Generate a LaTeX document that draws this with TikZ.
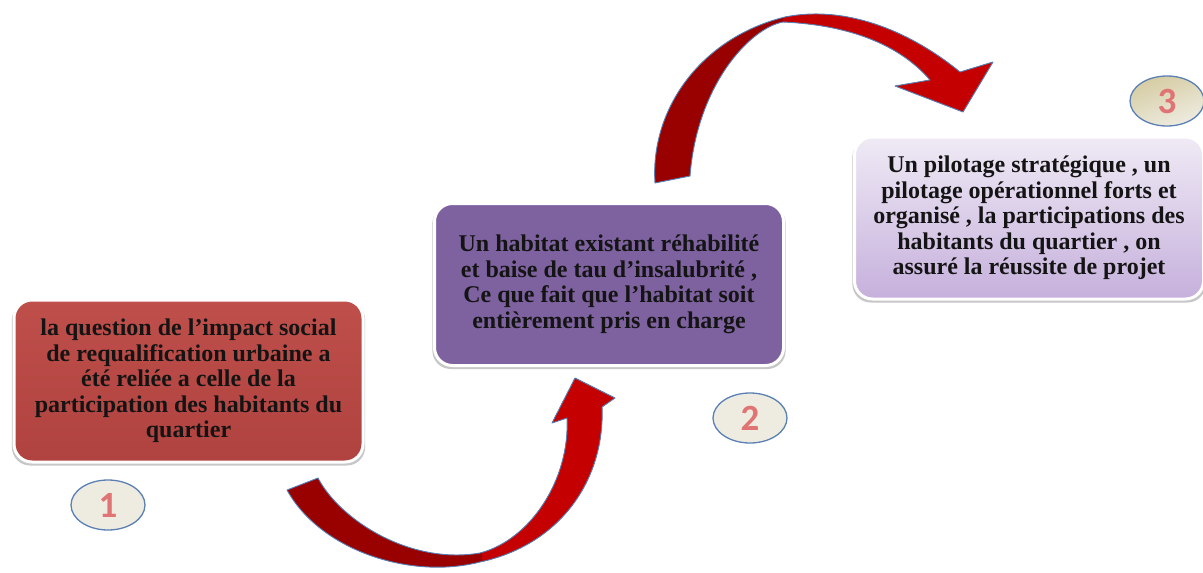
\documentclass[tikz,border=0pt]{standalone}
\usepackage{fontspec}
\setmainfont{Liberation Serif}
\newfontfamily\digitfont{Carlito}
\usetikzlibrary{shapes.geometric,shadows}
\definecolor{boxred}{HTML}{BE4F4B}
\definecolor{boxredb}{HTML}{B0423F}
\definecolor{boxpurple}{HTML}{7E62A0}
\definecolor{boxlavtop}{HTML}{EFEAF5}
\definecolor{boxlavbot}{HTML}{C6B0DC}
\definecolor{ovalfill}{HTML}{EEECE1}
\definecolor{ovaltan}{HTML}{D5CCA2}
\definecolor{ovaledge}{HTML}{5A80B4}
\definecolor{digitcol}{HTML}{E07474}
\definecolor{arrdark}{HTML}{990000}
\definecolor{arrbright}{HTML}{C40000}
\definecolor{arredge}{HTML}{5580B5}
\tikzset{
  stepbox/.style={rectangle, rounded corners=18pt, minimum width=349pt, minimum height=162pt,
    inner sep=0pt, draw=white, line width=3pt, align=center,
    font=\fontsize{24}{25.6}\selectfont\bfseries, text=black!92,
    general shadow={fill=black!22, shadow xshift=0pt, shadow yshift=-2.5pt, shadow scale=1.012}},
  numoval/.style={ellipse, minimum width=74pt, minimum height=50pt, inner sep=0pt,
    draw=ovaledge, line width=1.3pt, fill=ovalfill, text=digitcol,
    font=\fontsize{37}{37}\selectfont\digitfont\bfseries},
  arrowedge/.style={draw=arredge, line width=0.9pt, line join=round}
}
\newcommand{\arrowApath}{(287,490) .. controls (320,550) and (410,580) .. (480,562)
  .. controls (560,545) and (605,480) .. (602,407) -- (615,398) -- (575,378) -- (552,423) -- (567,418)
  .. controls (570,480) and (530,540) .. (480,553)
  .. controls (410,565) and (340,520) .. (318,478) -- cycle}
\newcommand{\arrowBpath}{(655,183) .. controls (650,110) and (700,38) .. (785,17)
  .. controls (850,4) and (915,35) .. (960,72) -- (993,62) -- (963,112) -- (895,86) -- (930,80)
  .. controls (900,45) and (850,25) .. (783,22)
  .. controls (750,28) and (697,85) .. (690,176) -- cycle}
\begin{document}
\begin{tikzpicture}[x=1pt,y=-1pt]
\useasboundingbox (0,0) rectangle (1203,573);
\fill[white] (0,0) rectangle (1203,573);

% boxes
\node[stepbox, top color=boxred, bottom color=boxredb] (b1) at (188.5,381)
  {la question de l’impact social\\de requalification urbaine a\\été reliée a celle de la\\participation des habitants du\\quartier};
\node[stepbox, fill=boxpurple] (b2) at (609,284.5)
  {Un habitat existant réhabilité\\et baise de tau  d’insalubrité ,\\Ce que fait que l’habitat soit\\entièrement pris en charge};
\node[stepbox, top color=boxlavtop, bottom color=boxlavbot] (b3) at (1029,218)
  {Un pilotage stratégique , un\\pilotage opérationnel forts et\\organisé , la participations des\\habitants du quartier , on\\assuré la réussite de projet};

% number ovals
\node[numoval] (n1) at (108,505) {1};
\node[numoval] (n2) at (750,418) {2};
\node[numoval, fill=none, top color=ovaltan, bottom color=ovalfill, shading angle=20] (n3) at (1167,101) {3};

% curved arrow 1 -> 2
\fill[arrdark] \arrowApath;
\begin{scope}
  \clip \arrowApath;
  \fill[arrbright] (482,300) rectangle (700,600);
\end{scope}
\draw[arrowedge] \arrowApath;

% curved arrow 2 -> 3
\fill[arrdark] \arrowBpath;
\begin{scope}
  \clip \arrowBpath;
  \fill[arrbright] (783,0) rectangle (1010,130);
\end{scope}
\draw[arrowedge] \arrowBpath;
\end{tikzpicture}
\end{document}
